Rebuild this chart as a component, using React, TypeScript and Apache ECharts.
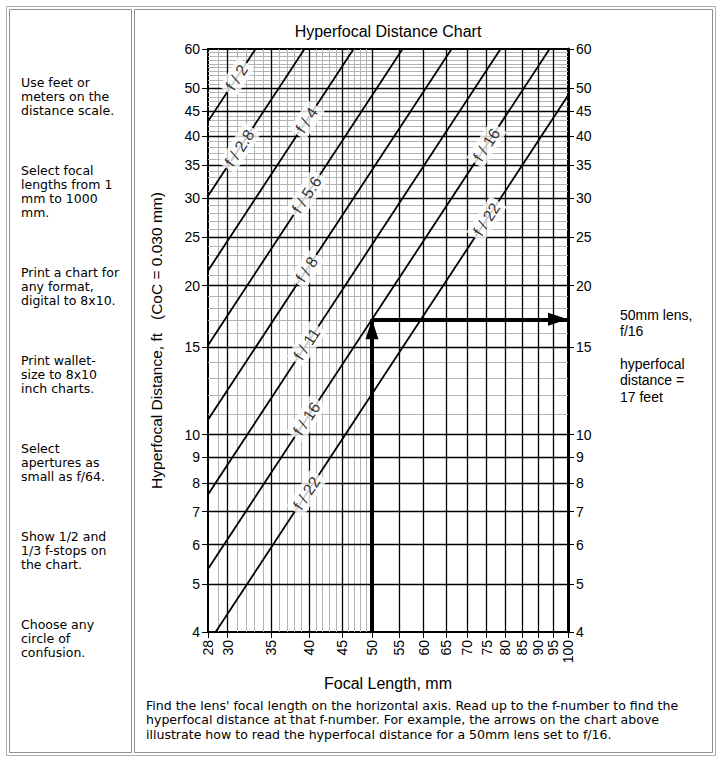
import React, { useEffect, useRef } from 'react';
import * as echarts from 'echarts';

// Axis tick labels
const xTickValues = [28, 30, 35, 40, 45, 50, 55, 60, 65, 70, 75, 80, 85, 90, 95, 100];
const yTickValues = [4, 5, 6, 7, 8, 9, 10, 15, 20, 25, 30, 35, 40, 45, 50, 60];
// Grid lines
const xMajorGrid = [30, 35, 40, 45, 50, 55, 60, 65, 70, 75, 80, 85, 90, 95];
const yMajorGrid = [5, 6, 7, 8, 9, 10, 15, 20, 25, 30, 35, 40, 45, 50];
const xMinorGrid = [29, 31, 32, 33, 34, 36, 37, 38, 39, 41, 42, 43, 44, 46, 47, 48, 49];
const yMinorGrid = [11, 12, 13, 14, 16, 17, 18, 19, 21, 22, 23, 24, 26, 27, 28, 29, 31, 32, 33, 34,
  36, 37, 38, 39, 41, 42, 43, 44, 46, 47, 48, 49, 51, 52, 53, 54, 55, 56, 57, 58, 59];

// Aperture lines: hyperfocal distance (ft) at 28 mm and at 100 mm
const apertureNames = ['f/2', 'f/2.8', 'f/4', 'f/5.6', 'f/8', 'f/11', 'f/16', 'f/22'];
const hyperfocalAt28mm = [42.87, 30.32, 21.43, 15.16, 10.72, 7.58, 5.36, 3.79];
const hyperfocalAt100mm = [546.8, 386.7, 273.4, 193.3, 136.7, 96.69, 68.35, 48.33];
const focalStart = 28;
const focalEnd = 100;

// Line labels (placed on the lines)
const labelNames = ['f/2', 'f/2.8', 'f/4', 'f/5.6', 'f/8', 'f/11', 'f/16', 'f/22', 'f/16', 'f/22'];
const labelFocal = [31, 31.3, 39.7, 39.7, 39.7, 39.7, 39.7, 39.7, 75, 75];
const labelDistance = [52.55, 37.88, 43.09, 30.47, 21.55, 15.24, 10.77, 7.62, 38.45, 27.19];

// Example: 50 mm lens at f/16
const exampleFocal = 50;
const exampleDistance = 17.09;

const sideNotes = [
  'Use feet or\nmeters on the\ndistance scale.',
  'Select focal\nlengths from 1\nmm to 1000\nmm.',
  'Print a chart for\nany format,\ndigital to 8x10.',
  'Print wallet-\nsize to 8x10\ninch charts.',
  'Select\napertures as\nsmall as f/64.',
  'Show 1/2 and\n1/3 f-stops on\nthe chart.',
  'Choose any\ncircle of\nconfusion.',
];
const sideNoteTops = [75, 163, 265, 353, 441, 529, 617];

const footText = "Find the lens' focal length on the horizontal axis. Read up to the f-number to find the\nhyperfocal distance at that f-number. For example, the arrows on the chart above\nillustrate how to read the hyperfocal distance for a 50mm lens set to f/16.";
const exampleNote = '50mm lens,\nf/16\n\nhyperfocal\ndistance =\n17 feet';

const ARIAL = '"Liberation Sans", Arial, sans-serif';
const VERDANA = '"DejaVu Sans", Verdana, sans-serif';

export default function App() {
  const ref = useRef<HTMLDivElement>(null);
  useEffect(() => {
    if (!ref.current) return;
    const chart = echarts.init(ref.current, null, { renderer: 'svg' });

    const gridLine = (vals: number[], key: 'xAxis' | 'yAxis') => vals.map((v) => ({ [key]: v }));

    const apertureSeries = apertureNames.map((name, i) => ({
      type: 'line',
      name,
      data: [[focalStart, hyperfocalAt28mm[i]], [focalEnd, hyperfocalAt100mm[i]]],
      showSymbol: false,
      symbol: 'none',
      clip: true,
      silent: true,
      lineStyle: { color: '#000', width: 1.8 },
      z: 3,
    }));

    const option: any = {
      animation: false,
      backgroundColor: '#fff',
      textStyle: { fontFamily: ARIAL },
      grid: { left: 208, right: 154, top: 49, bottom: 131, show: true, borderColor: '#000', borderWidth: 2, backgroundColor: 'transparent' },
      xAxis: {
        type: 'log', logBase: 10, min: 28, max: 100,
        axisLine: { show: true, lineStyle: { color: '#000', width: 2 } },
        axisTick: { show: true, customValues: xTickValues, length: 6, lineStyle: { color: '#000', width: 1 } },
        axisLabel: { customValues: xTickValues, rotate: 90, fontSize: 14, color: '#000', margin: 8, fontFamily: ARIAL },
        splitLine: { show: false },
        minorTick: { show: false },
        name: 'Focal Length, mm', nameLocation: 'middle', nameGap: 43,
        nameTextStyle: { fontSize: 16, color: '#000', fontFamily: ARIAL },
      },
      yAxis: [
        {
          type: 'log', logBase: 10, min: 4, max: 60, position: 'left',
          axisLine: { show: true, lineStyle: { color: '#000', width: 2 } },
          axisTick: { show: true, customValues: yTickValues, length: 6, lineStyle: { color: '#000', width: 1 } },
          axisLabel: { customValues: yTickValues, fontSize: 14, color: '#000', margin: 8, fontFamily: ARIAL },
          splitLine: { show: false },
          name: 'Hyperfocal Distance, ft\u00a0\u00a0\u00a0(CoC = 0.030 mm)', nameLocation: 'middle', nameGap: 44, nameRotate: 90,
          nameTextStyle: { fontSize: 15.5, color: '#000', fontFamily: ARIAL },
        },
        {
          type: 'log', logBase: 10, min: 4, max: 60, position: 'right',
          axisLine: { show: true, lineStyle: { color: '#000', width: 3 } },
          axisTick: { show: true, customValues: yTickValues, length: 6, lineStyle: { color: '#000', width: 1 } },
          axisLabel: { customValues: yTickValues, fontSize: 14, color: '#000', margin: 8, fontFamily: ARIAL },
          splitLine: { show: false },
        },
      ],
      series: [
        {
          type: 'line', data: [], silent: true, z: 1,
          markLine: {
            silent: true, z: 1, symbol: ['none', 'none'], label: { show: false }, animation: false,
            lineStyle: { color: '#b4b4b4', width: 1, type: 'solid' },
            data: [...gridLine(xMinorGrid, 'xAxis'), ...gridLine(yMinorGrid, 'yAxis')],
          },
        },
        {
          type: 'line', data: [], silent: true, z: 2,
          markLine: {
            silent: true, z: 2, symbol: ['none', 'none'], label: { show: false }, animation: false,
            lineStyle: { color: '#000', width: 1.3, type: 'solid' },
            data: [...gridLine(xMajorGrid, 'xAxis'), ...gridLine(yMajorGrid, 'yAxis')],
          },
        },
        ...apertureSeries,
        {
          type: 'scatter', silent: true, z: 5,
          symbolSize: 1,
          itemStyle: { color: 'transparent' },
          data: labelNames.map((n, i) => ({ name: n, value: [labelFocal[i], labelDistance[i]] })),
          label: {
            show: true, position: 'inside', rotate: 56.7,
            formatter: (p: any) => p.name.replace('/', ' / '),
            backgroundColor: '#fff', padding: [2, 4],
            fontSize: 16, color: '#000', fontFamily: ARIAL,
          },
        },
        {
          type: 'line', data: [], silent: true, z: 6,
          markLine: {
            silent: true, z: 6, symbol: ['none', 'triangle'], symbolSize: [13, 20],
            symbolOffset: [[0, 0], [0, 10]],
            label: { show: false }, animation: false,
            lineStyle: { color: '#000', width: 4, type: 'solid' },
            itemStyle: { color: '#000' },
            data: [
              [{ coord: [exampleFocal, 4] }, { coord: [exampleFocal, exampleDistance] }],
              [{ coord: [exampleFocal, exampleDistance] }, { coord: [100, exampleDistance] }],
            ],
          },
        },
      ],
      graphic: [
        { type: 'rect', silent: true, z: -10, shape: { x: 6.5, y: 6.5, width: 709, height: 749 }, style: { fill: 'none', stroke: '#b0b0b0', lineWidth: 1 } },
        { type: 'rect', silent: true, z: -10, shape: { x: 9.5, y: 9.5, width: 122, height: 743 }, style: { fill: 'none', stroke: '#909090', lineWidth: 1 } },
        { type: 'rect', silent: true, z: -10, shape: { x: 134.5, y: 9.5, width: 578, height: 743 }, style: { fill: 'none', stroke: '#909090', lineWidth: 1 } },
        {
          type: 'text', silent: true, x: 388, y: 31,
          style: { text: 'Hyperfocal Distance Chart', align: 'center', verticalAlign: 'middle', fontSize: 16, fontFamily: ARIAL, fill: '#000' },
        },
        ...sideNotes.map((t, i) => ({
          type: 'text', silent: true, x: 21, y: sideNoteTops[i],
          style: { text: t, align: 'left', verticalAlign: 'top', fontSize: 12.5, lineHeight: 14, fontFamily: VERDANA, fill: '#000' },
        })),
        {
          type: 'text', silent: true, x: 620, y: 307,
          style: { text: exampleNote, align: 'left', verticalAlign: 'top', fontSize: 14, lineHeight: 16.3, fontFamily: ARIAL, fill: '#000' },
        },
        {
          type: 'text', silent: true, x: 146, y: 698,
          style: { text: footText, align: 'left', verticalAlign: 'top', fontSize: 12.55, lineHeight: 14.5, fontFamily: VERDANA, fill: '#000' },
        },
      ],
    };
    chart.setOption(option);
    return () => chart.dispose();
  }, []);
  return (
    <div
      ref={ref}
      style={{ position: 'absolute', left: 0, top: 0, width: 722, height: 763, background: '#fff' }}
    />
  );
}
